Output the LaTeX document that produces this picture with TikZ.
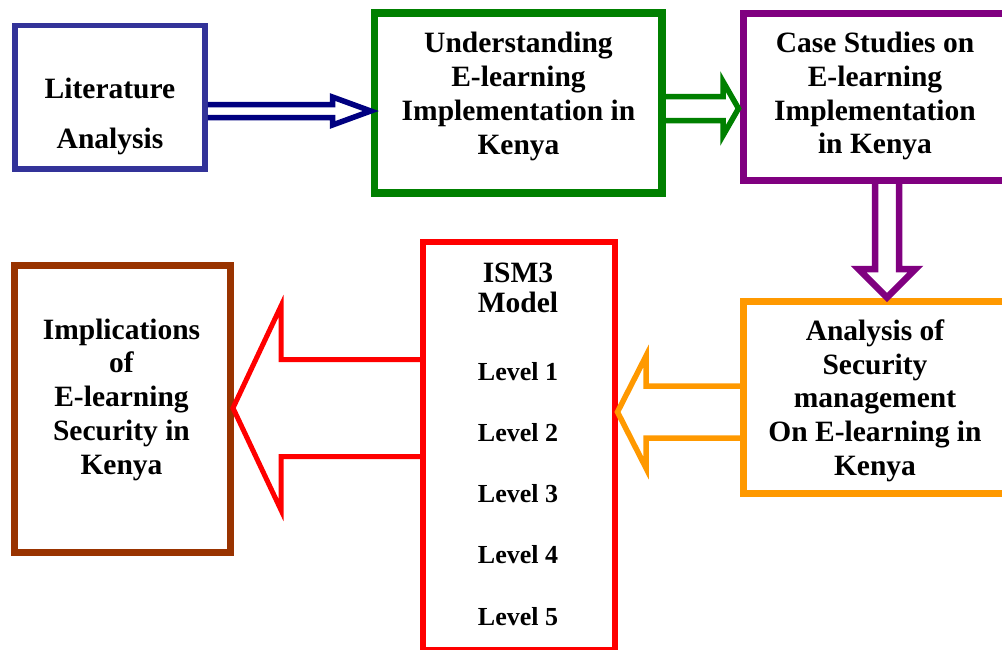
\documentclass[tikz,border=0pt]{standalone}
\usepackage{fontspec}
\setmainfont{Liberation Serif}

\definecolor{litblue}{HTML}{333399}
\definecolor{arrnavy}{HTML}{000080}
\definecolor{undgreen}{HTML}{008000}
\definecolor{casepurple}{HTML}{800080}
\definecolor{ismred}{HTML}{FF0000}
\definecolor{analorange}{HTML}{FF9900}
\definecolor{implbrown}{HTML}{993300}

\begin{document}
\begin{tikzpicture}[x=1pt, y=-1pt,
	box/.style={draw, rectangle, inner sep=0pt, line width=7pt},
	txt/.style={inner sep=0pt, align=center, font=\bfseries\fontsize{29.5}{33.8}\selectfont},
	lvl/.style={inner sep=0pt, anchor=base, font=\bfseries\fontsize{26}{30}\selectfont},
	blockarr/.style={line width=5.5pt, miter limit=10}]
	\useasboundingbox (0,0) rectangle (1002,649);
	
	%nodes
	\node (lit)  [box, draw=litblue, line width=5.5pt, minimum width=190pt, minimum height=143.5pt] at (110,97.25) {};
	\node (und)  [box, draw=undgreen, line width=7.5pt, minimum width=287.5pt, minimum height=180pt] at (518.25,103) {};
	\node (case) [box, draw=casepurple, minimum width=263.5pt, minimum height=167.5pt] at (875.25,96.75) {};
	\node (anal) [box, draw=analorange, minimum width=263.5pt, minimum height=192pt] at (875.25,397) {};
	\node (ism)  [box, draw=ismred, line width=6pt, minimum width=191.5pt, minimum height=408pt] at (518.75,446) {};
	\node (impl) [box, draw=implbrown, minimum width=216pt, minimum height=287pt] at (122,408.5) {};
	
	\node (litT)  [txt] at (110,116.7)   {Literature\\[16pt]Analysis};
	\node (undT)  [txt] at (518.5,96.3)  {Understanding\\E-learning\\Implementation in\\Kenya};
	\node (caseT) [txt] at (875,96.2)    {Case Studies on\\E-learning\\Implementation\\in Kenya};
	\node (analT) [txt] at (875,400.7)   {Analysis of\\Security\\management\\On E-learning in\\Kenya};
	\node (implT) [txt] at (121.5,399.7) {Implications\\of\\E-learning\\Security in\\Kenya};
	\node (ismT)  [txt] at (518,287.9)   {ISM3\\[-3pt]Model};
	\foreach \i in {1,...,5}
		\node (lv\i) [lvl] at (518,{380+61.25*(\i-1)}) {Level \i};
	
	%links
	\draw[blockarr, arrnavy] (lit.east |- 0,104.5) -- (332.5,104.5) -- (332.5,97) -- (und.west |- 0,111)
		-- (332.5,125) -- (332.5,117.5) -- (lit.east |- 0,117.5);
	\draw[blockarr, undgreen] (und.east |- 0,96.5) -- (723,96.5) -- (723,81.5) -- (738.5,108.5)
		-- (723,135.5) -- (723,120.5) -- (und.east |- 0,120.5);
	\draw[blockarr, casepurple, line width=6.5pt] (case.south -| 875,0) -- (875,269) -- (858.5,269) -- (anal.north -| 887,0)
		-- (915.5,269) -- (899,269) -- (case.south -| 899,0);
	\draw[blockarr, analorange] (anal.west |- 0,386) -- (646,386) -- (646,356) -- (ism.east |- 0,412)
		-- (646,468) -- (646,438) -- (anal.west |- 0,438);
	\draw[blockarr, ismred, line width=5pt] (ism.west |- 0,359.5) -- (281,359.5) -- (281,306) -- (233,408)
		-- (281,510) -- (281,456.5) -- (ism.west |- 0,456.5);
\end{tikzpicture}
\end{document}
